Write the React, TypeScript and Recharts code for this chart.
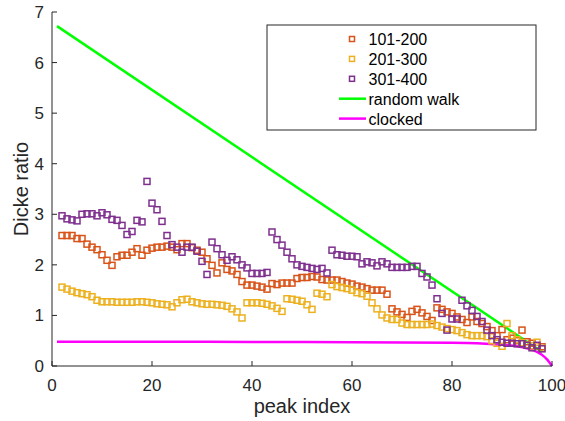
import React from "react";
import { ComposedChart, Scatter, Line, XAxis, YAxis } from "recharts";

// peaks 2..98 carry a marker in every range
const peakIndex = Array.from({ length: 97 }, (_, i) => i + 2);

const ratio101to200 = [
  2.58, 2.58, 2.58, 2.52, 2.52, 2.41, 2.35, 2.3, 2.2, 2.09,
  1.99, 2.16, 2.19, 2.19, 2.25, 2.32, 2.19, 2.29, 2.33, 2.35,
  2.35, 2.37, 2.35, 2.3, 2.42, 2.42, 2.34, 2.29, 2.25, 2.12,
  1.99, 1.84, 2.04, 1.91, 1.88, 1.81, 1.67, 1.6, 1.6, 1.58,
  1.56, 1.52, 1.63, 1.61, 1.64, 1.64, 1.64, 1.73, 1.75, 1.75,
  1.77, 1.76, 1.71, 1.7, 1.7, 1.7, 1.67, 1.64, 1.62, 1.58,
  1.56, 1.53, 1.5, 1.5, 1.5, 1.42, 1.13, 1.07, 1.02, 0.96,
  1.08, 1.12, 1.05, 0.98, 0.9, 1.15, 1.12, 1.07, 1.04, 0.97,
  0.92, 0.86, 0.97, 0.88, 0.84, 0.78, 0.7, 0.6, 0.72, 0.52,
  0.55, 0.5, 0.71, 0.48, 0.45, 0.4, 0.38,
];

const ratio201to300 = [
  1.56, 1.52, 1.48, 1.45, 1.43, 1.41, 1.37, 1.3, 1.27, 1.27,
  1.27, 1.26, 1.26, 1.26, 1.26, 1.27, 1.27, 1.26, 1.25, 1.23,
  1.22, 1.21, 1.17, 1.25, 1.31, 1.32, 1.27, 1.25, 1.23, 1.22,
  1.22, 1.21, 1.2, 1.18, 1.13, 1.07, 0.95, 1.25, 1.25, 1.25,
  1.24, 1.22, 1.19, 1.14, 1.08, 1.33, 1.32, 1.3, 1.28, 1.21,
  1.12, 1.44, 1.42, 1.37, 1.61, 1.57, 1.55, 1.53, 1.5, 1.45,
  1.43, 1.38, 1.25, 1.13, 1.01, 0.95, 0.92, 0.92, 0.85, 0.82,
  0.82, 0.82, 0.82, 0.82, 0.83, 0.8, 0.77, 0.74, 0.72, 0.7,
  0.66, 0.62, 0.6, 0.6, 0.6, 0.58, 0.5, 0.45, 0.39, 0.84,
  0.6, 0.52, 0.46, 0.42, 0.4, 0.47, 0.35,
];

const ratio301to400 = [
  2.97, 2.91, 2.89, 2.87, 3.0, 3.01, 3.01, 2.97, 3.03, 2.99,
  2.9, 2.88, 2.78, 2.6, 2.66, 2.88, 2.85, 3.65, 3.22, 3.09,
  2.86, 2.58, 2.4, 2.35, 2.25, 2.35, 2.35, 2.27, 2.07, 1.81,
  2.45, 2.32, 2.2, 2.09, 2.16, 2.1, 2.0, 1.94, 1.83, 1.83,
  1.83, 1.85, 2.65, 2.5, 2.39, 2.25, 2.12, 2.0, 1.97, 1.95,
  1.93, 1.91, 1.93, 1.84, 2.29, 2.2, 2.19, 2.17, 2.17, 2.16,
  2.02, 2.06, 2.04, 1.98, 2.06, 2.02, 1.95, 1.95, 1.95, 1.95,
  1.97, 1.97, 1.83, 1.76, 1.6, 1.33, 1.04, 0.71, 0.93, 0.93,
  1.3, 1.19, 1.1, 0.98, 0.88, 0.71, 0.6, 0.52, 0.47, 0.45,
  0.45, 0.44, 0.44, 0.41, 0.36, 0.41, 0.34,
];

const randomWalkX = [1, 98];
const randomWalkY = [6.72, 0.28];

const clockedX = [1, 20, 40, 60, 80, 85, 90, 93, 95, 96, 97, 98, 99, 99.5, 100];
const clockedY = [0.48, 0.48, 0.475, 0.47, 0.46, 0.45, 0.42, 0.39, 0.35, 0.32, 0.28, 0.22, 0.13, 0.07, 0];

const xTicks = [0, 20, 40, 60, 80, 100];
const yTicks = [0, 1, 2, 3, 4, 5, 6, 7];

const FONT = "'Liberation Sans', Arial, Helvetica, sans-serif";
const AXIS = "#262626";
const ORANGE = "#D95319";
const YELLOW = "#EDB120";
const PURPLE = "#7E2F8E";
const GREEN = "#00FF00";
const MAGENTA = "#FF00FF";

const toPoints = (xs: number[], ys: number[]) => xs.map((x, k) => ({ x, y: ys[k] }));

const squareShape = (color: string) => (props: any) => {
  const { cx, cy } = props;
  if (cx == null || cy == null) return <g />;
  return (
    <rect x={cx - 3} y={cy - 3} width={6} height={6} fill="none" stroke={color} strokeWidth={1.5} />
  );
};

const BottomTick = (props: any) => {
  const { x, y, payload } = props;
  return (
    <g>
      <line x1={x} x2={x} y1={y} y2={y - 5} stroke={AXIS} />
      <text x={x} y={y + 25} textAnchor="middle" fontSize={17} fill={AXIS} fontFamily={FONT}>
        {payload.value}
      </text>
    </g>
  );
};

const LeftTick = (props: any) => {
  const { x, y, payload } = props;
  return (
    <g>
      <line x1={x} x2={x + 5} y1={y} y2={y} stroke={AXIS} />
      <text x={x - 8} y={y + 6} textAnchor="end" fontSize={17} fill={AXIS} fontFamily={FONT}>
        {payload.value}
      </text>
    </g>
  );
};

const TopTick = (props: any) => {
  const { x, y } = props;
  return <line x1={x} x2={x} y1={y} y2={y + 5} stroke={AXIS} />;
};

const RightTick = (props: any) => {
  const { x, y } = props;
  return <line x1={x} x2={x - 5} y1={y} y2={y} stroke={AXIS} />;
};

const legendRows = [
  { name: "101-200", color: ORANGE, kind: "marker" },
  { name: "201-300", color: YELLOW, kind: "marker" },
  { name: "301-400", color: PURPLE, kind: "marker" },
  { name: "random walk", color: GREEN, kind: "line" },
  { name: "clocked", color: MAGENTA, kind: "line" },
];

export default function App() {
  return (
    <div style={{ position: "absolute", left: 0, top: 0, width: 565, height: 421, background: "#fff" }}>
      <ComposedChart width={565} height={421} margin={{ top: 12, right: 13, left: 0, bottom: 0 }}>
        <XAxis
          dataKey="x"
          type="number"
          domain={[0, 100]}
          ticks={xTicks}
          height={55}
          tickSize={0}
          tickMargin={0}
          tickLine={false}
          axisLine={{ stroke: AXIS }}
          tick={BottomTick}
        />
        <XAxis
          xAxisId="top"
          orientation="top"
          type="number"
          domain={[0, 100]}
          ticks={xTicks}
          height={0}
          tickSize={0}
          tickMargin={0}
          tickLine={false}
          axisLine={{ stroke: AXIS }}
          tick={TopTick}
        />
        <YAxis
          dataKey="y"
          type="number"
          domain={[0, 7]}
          ticks={yTicks}
          width={52}
          tickSize={0}
          tickMargin={0}
          tickLine={false}
          axisLine={{ stroke: AXIS }}
          tick={LeftTick}
        />
        <YAxis
          yAxisId="right"
          orientation="right"
          type="number"
          domain={[0, 7]}
          ticks={yTicks}
          width={0}
          tickSize={0}
          tickMargin={0}
          tickLine={false}
          axisLine={{ stroke: AXIS }}
          tick={RightTick}
        />
        <Scatter
          name="101-200"
          data={toPoints(peakIndex, ratio101to200)}
          dataKey="y"
          shape={squareShape(ORANGE)}
          isAnimationActive={false}
        />
        <Scatter
          name="201-300"
          data={toPoints(peakIndex, ratio201to300)}
          dataKey="y"
          shape={squareShape(YELLOW)}
          isAnimationActive={false}
        />
        <Scatter
          name="301-400"
          data={toPoints(peakIndex, ratio301to400)}
          dataKey="y"
          shape={squareShape(PURPLE)}
          isAnimationActive={false}
        />
        <Line
          name="random walk"
          data={toPoints(randomWalkX, randomWalkY)}
          dataKey="y"
          type="linear"
          stroke={GREEN}
          strokeWidth={2.5}
          dot={false}
          activeDot={false}
          isAnimationActive={false}
        />
        <Line
          name="clocked"
          data={toPoints(clockedX, clockedY)}
          dataKey="y"
          type="monotone"
          stroke={MAGENTA}
          strokeWidth={2.5}
          dot={false}
          activeDot={false}
          isAnimationActive={false}
        />
      </ComposedChart>

      <svg
        width={565}
        height={421}
        style={{ position: "absolute", left: 0, top: 0, pointerEvents: "none" }}
        fontFamily={FONT}
      >
        <text x={302} y={413} textAnchor="middle" fontSize={20} fill={AXIS}>
          peak index
        </text>
        <text
          x={0}
          y={0}
          transform="translate(28, 189) rotate(-90)"
          textAnchor="middle"
          fontSize={20}
          fill={AXIS}
        >
          Dicke ratio
        </text>

        <rect x={267} y={25} width={269} height={105} fill="#fff" stroke={AXIS} strokeWidth={1} />
        {legendRows.map((row, k) => {
          const cy = 39 + k * 19.9;
          return (
            <g key={row.name}>
              {row.kind === "marker" ? (
                <rect x={349.5} y={cy - 2.5} width={5} height={5} fill="none" stroke={row.color} strokeWidth={1.5} />
              ) : (
                <line x1={339} x2={366} y1={cy} y2={cy} stroke={row.color} strokeWidth={2.5} />
              )}
              <text x={368.5} y={cy + 6} fontSize={16} fill="#000">
                {row.name}
              </text>
            </g>
          );
        })}
      </svg>
    </div>
  );
}
